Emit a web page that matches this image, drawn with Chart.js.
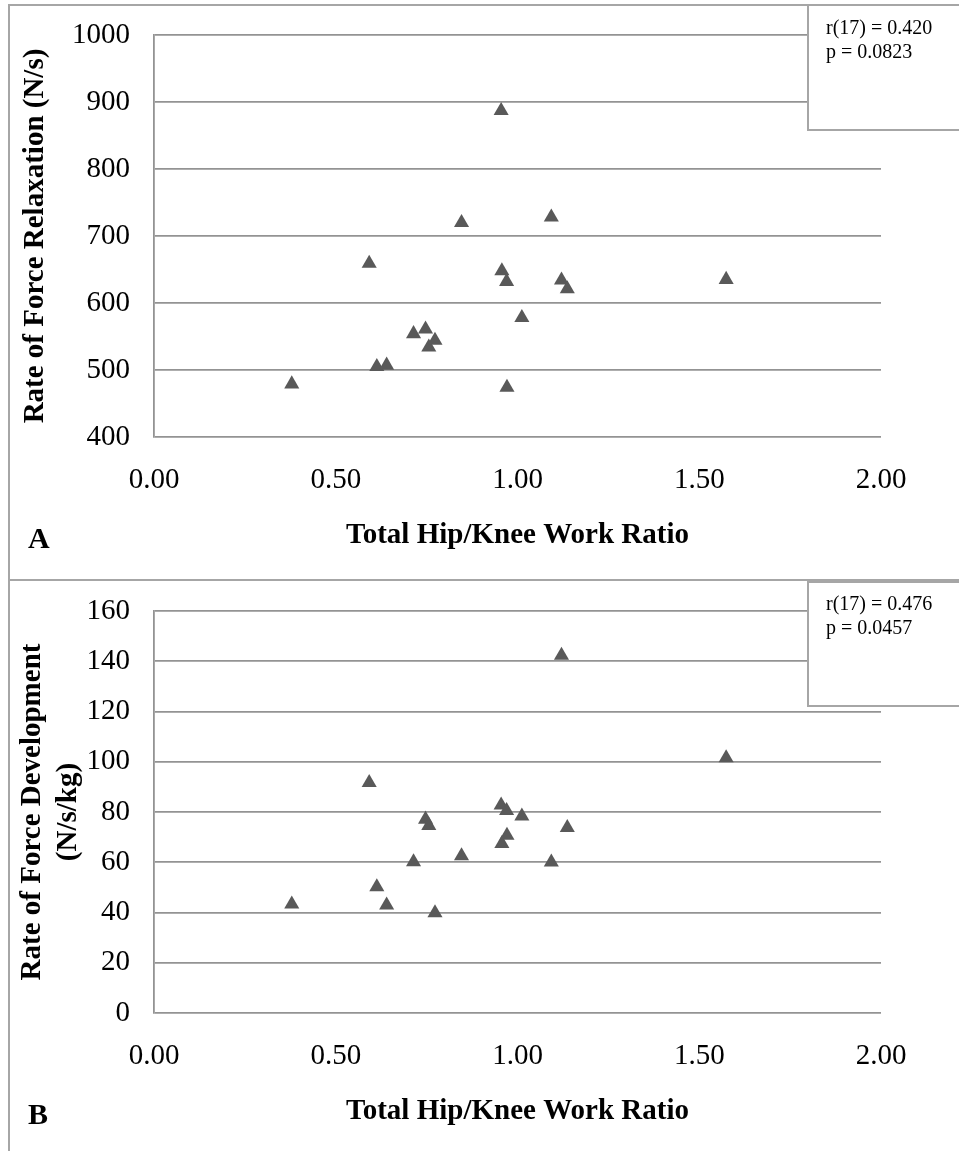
<!DOCTYPE html>
<html>
<head>
<meta charset="utf-8">
<script src="https://cdn.jsdelivr.net/npm/chart.js@4.4.1/dist/chart.umd.min.js"></script>
<style>
	body { margin: 0; background: #fff; }
	#page { position: relative; width: 959px; height: 1151px; overflow: hidden; }
	.rule { position: absolute; background: #a6a6a6; }
	canvas { position: absolute; left: 0; }
</style>
</head>
<body>
<div id="page">
	<div class="rule" style="left:8px;top:4px;width:2px;height:1147px"></div>
	<div class="rule" style="left:8px;top:4px;width:951px;height:2px"></div>
	<div class="rule" style="left:8px;top:579px;width:951px;height:2px"></div>
	<canvas id="chartA" width="959" height="575" style="top:0"></canvas>
	<canvas id="chartB" width="959" height="575" style="top:576px"></canvas>
</div>
<script>
// Hip/knee work ratio per subject, with the two rate measures
const hipKneeRatio = [ 0.379, 0.592, 0.613, 0.640, 0.714, 0.747, 0.756, 0.773, 0.846,
	0.955, 0.957, 0.970, 0.971, 1.012, 1.093, 1.121, 1.137, 1.574 ];
const relaxationRate = [ 479, 659, 505, 507, 554, 561, 534, 544, 720,
	887, 648, 632, 474, 578, 728, 634, 621, 635 ];
const developmentRate = [ 43.3, 91.7, 50.2, 42.9, 60.1, 77.1, 74.6, 39.8, 62.5,
	82.7, 67.4, 80.5, 70.7, 78.3, 60.0, 142.3, 73.8, 101.5 ];

const statsRelaxation = [ 'r(17) = 0.420', 'p = 0.0823' ];
const statsDevelopment = [ 'r(17) = 0.476', 'p = 0.0457' ];

const serif = "'Liberation Serif', 'Times New Roman', serif";
const gridGrey = '#939393';

// Panel letter and the correlation box in the top right corner
const panelNotes = {
	id: 'panelNotes',
	afterDraw( chart, args, opts ) {
		const ctx = chart.ctx;
		ctx.save();
		ctx.fillStyle = '#fff';
		ctx.fillRect( 808, opts.boxTop, 160, 130 - opts.boxTop );
		ctx.strokeStyle = '#a6a6a6';
		ctx.lineWidth = 2;
		ctx.strokeRect( 808, opts.boxTop, 160, 130 - opts.boxTop );

		ctx.fillStyle = '#000';
		ctx.font = '20px ' + serif;
		ctx.textBaseline = 'alphabetic';
		ctx.fillText( opts.stats[0], 826, 34 );
		ctx.fillText( opts.stats[1], 826, 57.5 );

		ctx.font = 'bold 30px ' + serif;
		ctx.fillText( opts.letter, 28, 548 );
		ctx.restore();
	}
};

function makeChart( id, values, yMin, yMax, yStep, yTitle, titleFont, titlePad, letter, stats, boxTop ) {
	return new Chart( id, {
		type: 'scatter',
		data: {
			datasets: [ {
				data: hipKneeRatio.map( ( x, i ) => ( { x: x, y: values[i] } ) ),
				pointStyle: 'triangle',
				pointRadius: 8.7,
				backgroundColor: '#595959',
				borderColor: '#595959',
				borderWidth: 0
			} ]
		},
		plugins: [ panelNotes ],
		options: {
			responsive: false,
			animation: false,
			events: [],
			layout: { autoPadding: false, padding: { top: 35, right: 78, left: 0, bottom: 0 } },
			plugins: {
				legend: { display: false },
				tooltip: { enabled: false },
				panelNotes: { letter: letter, stats: stats, boxTop: boxTop }
			},
			scales: {
				x: {
					type: 'linear',
					min: 0,
					max: 2,
					ticks: {
						stepSize: 0.5,
						autoSkip: false,
						maxRotation: 0,
						padding: 26,
						color: '#000',
						font: { family: serif, size: 29 },
						callback: v => v.toFixed( 2 )
					},
					grid: { display: false, drawTicks: false },
					border: { display: false },
					title: {
						display: true,
						text: 'Total Hip/Knee Work Ratio',
						color: '#000',
						font: { family: serif, size: 29, weight: 'bold' },
						padding: { top: 0, bottom: 22 }
					},
					afterFit( scale ) { scale.height = 575 - 437; }
				},
				y: {
					min: yMin,
					max: yMax,
					ticks: {
						stepSize: yStep,
						padding: 24,
						color: '#000',
						font: { family: serif, size: 29 },
						callback: v => String( v )
					},
					grid: { color: gridGrey, lineWidth: 1.8, drawTicks: false },
					border: { color: gridGrey, width: 1.8 },
					title: {
						display: true,
						text: yTitle,
						color: '#000',
						font: titleFont,
						padding: { top: titlePad, bottom: 0 }
					},
					afterFit( scale ) {
						// fixed axis strip; the label overhang fits inside the top padding
						scale.width = 154;
						scale.paddingTop = 0;
						scale.paddingBottom = 0;
					}
				}
			}
		}
	} );
}

makeChart( 'chartA', relaxationRate, 400, 1000, 100,
	'Rate of Force Relaxation (N/s)',
	{ family: serif, size: 29, weight: 'bold' }, 18,
	'A', statsRelaxation, 5 );

makeChart( 'chartB', developmentRate, 0, 160, 20,
	[ 'Rate of Force Development', '(N/s/kg)' ],
	{ family: serif, size: 29, weight: 'bold', lineHeight: '36px' }, 15,
	'B', statsDevelopment, 6 );
</script>
</body>
</html>
